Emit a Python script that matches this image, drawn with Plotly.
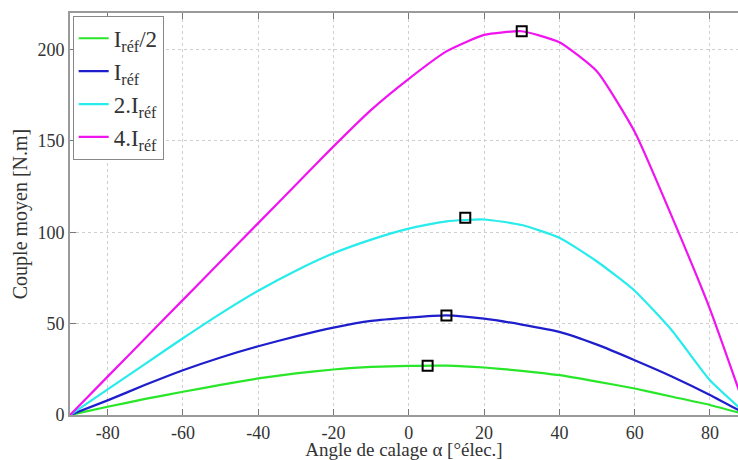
import plotly.graph_objects as go

angles = [-90, -80, -70, -60, -50, -40, -30, -20, -10, 0, 10, 20, 30, 40, 50, 60, 70, 80, 90]
couple_half = [0, 4.5, 8.8, 12.7, 16.5, 20, 22.8, 24.9, 26.3, 26.9, 27, 26, 24.2, 21.8, 18.3, 14.5, 10, 5.5, 0]
couple_1 = [0, 8, 16.5, 24.5, 31.5, 37.6, 43, 47.8, 51.5, 53.3, 54.5, 52.7, 49.5, 45.5, 38.5, 30, 21, 11, 0]
couple_2 = [0, 14, 28, 42, 55.5, 68, 79, 88.5, 96, 102, 106, 107, 104, 97, 84, 68, 46, 19, 0]
couple_4 = [0, 21, 42, 63, 84, 105, 126, 147, 167, 184, 199, 208, 210, 204, 188, 155, 108, 58, 0]

peak_angles = [5, 10, 15, 30]
peak_values = [27, 54.5, 108, 210]

series_names = ["I<sub>réf</sub>/2", "I<sub>réf</sub>", "2.I<sub>réf</sub>", "4.I<sub>réf</sub>"]
series_values = [couple_half, couple_1, couple_2, couple_4]
colors = ["rgb(40,230,40)", "rgb(30,30,205)", "rgb(40,235,235)", "rgb(240,20,240)"]

x_ticks = [-80, -60, -40, -20, 0, 20, 40, 60, 80]
y_ticks = [0, 50, 100, 150, 200]

fig = go.Figure()
for name, vals, col in zip(series_names, series_values, colors):
    fig.add_trace(go.Scatter(x=angles, y=vals, mode="lines", name=name,
                             line=dict(color=col, width=2.2, shape="spline", smoothing=0.5)))
fig.add_trace(go.Scatter(x=peak_angles, y=peak_values, mode="markers", showlegend=False,
                         marker=dict(symbol="square-open", size=10, color="black",
                                     line=dict(color="black", width=2))))

font_family = "Liberation Serif, Times New Roman, serif"
fig.update_layout(
    width=738, height=460,
    margin=dict(l=70, r=0, t=13, b=45, autoexpand=False),
    paper_bgcolor="white", plot_bgcolor="white",
    font=dict(family=font_family, size=19, color="#333333"),
    showlegend=True,
    legend=dict(x=0.004, y=0.993, xanchor="left", yanchor="top",
                bgcolor="white", bordercolor="#888888", borderwidth=1,
                font=dict(family=font_family, size=23, color="#333333"),
                itemwidth=30, tracegroupgap=10),
)
fig.update_xaxes(
    range=[-90, 87.45], tickvals=x_ticks, ticktext=[str(v) for v in x_ticks],
    automargin=False,
    showgrid=True, gridcolor="#cfcfcf", griddash="dot", gridwidth=1,
    showline=True, linecolor="#9a9a9a", linewidth=2, mirror="ticks",
    ticks="inside", ticklen=6, tickcolor="#777777",
    zeroline=False,
    tickfont=dict(family=font_family, size=18, color="#333333"),
    title=dict(text="Angle de calage α [°élec.]", standoff=4,
               font=dict(family=font_family, size=19, color="#333333")),
)
fig.update_yaxes(
    range=[0, 220], tickvals=y_ticks, ticktext=[str(v) for v in y_ticks],
    automargin=False,
    showgrid=True, gridcolor="#cfcfcf", griddash="dot", gridwidth=1,
    showline=True, linecolor="#9a9a9a", linewidth=2, mirror=False,
    ticks="inside", ticklen=6, tickcolor="#777777",
    zeroline=False,
    tickfont=dict(family=font_family, size=18, color="#333333"),
    title=dict(text="Couple moyen [N.m]", standoff=4,
               font=dict(family=font_family, size=20, color="#333333")),
)

fig.write_html("out.html", config={"displayModeBar": False},
               post_script="document.body.style.margin='0';document.body.style.overflow='hidden';")
